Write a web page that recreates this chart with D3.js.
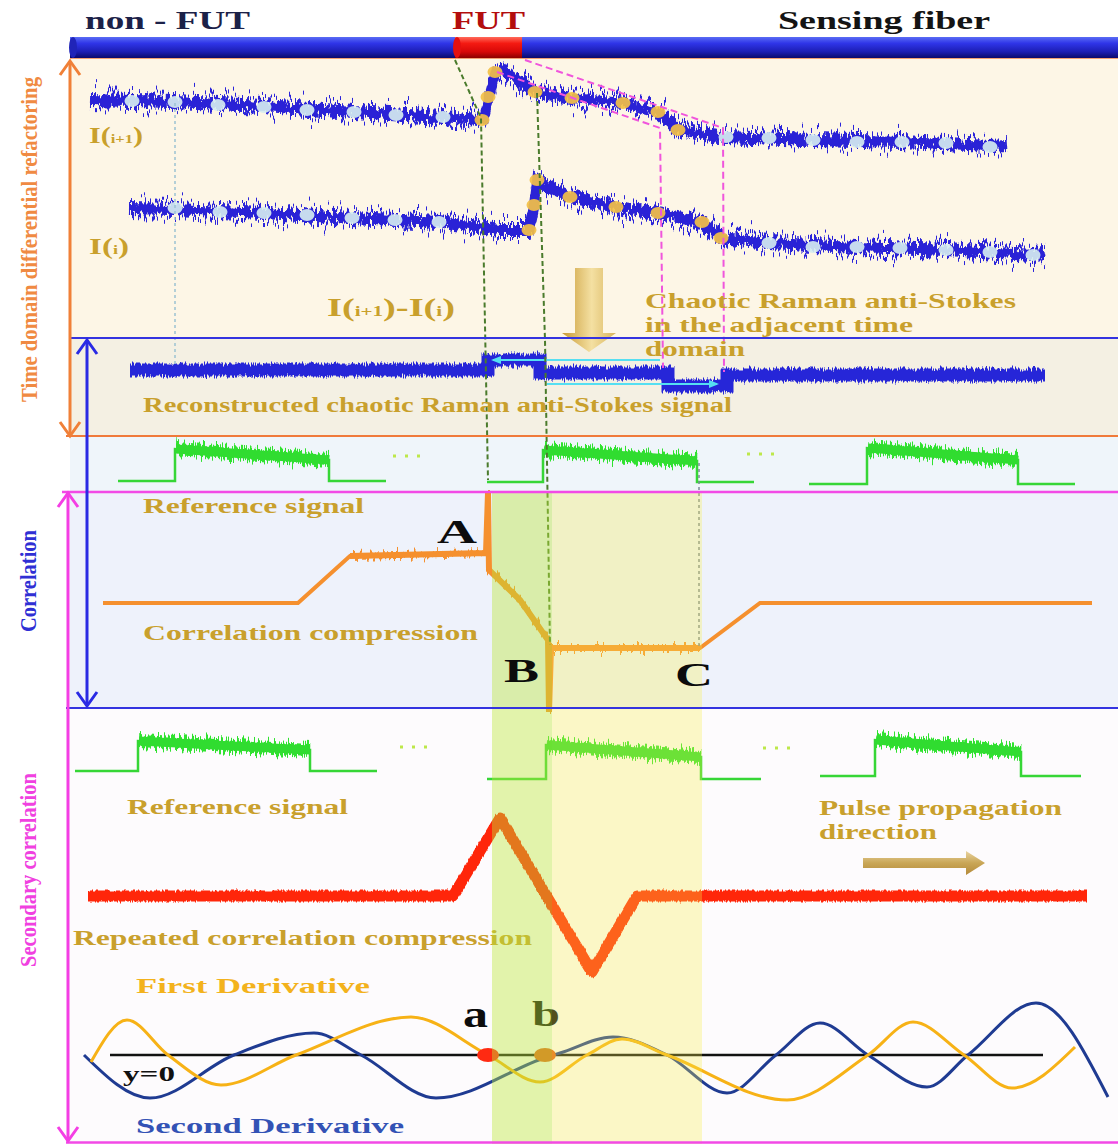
<!DOCTYPE html>
<meta charset="utf-8">
<style>
body { margin: 0; background: #fff; }
svg { display: block; }
.lbl { font-family: "Liberation Serif", "DejaVu Serif", serif; font-weight: bold; }
</style>
<svg width="1118" height="1144"></svg>
<script src="https://d3js.org/d3.v7.min.js"></script>
<script>

// ---- data (distance along fiber, signal values) ----
var fiberParts = [
  {name: "non-FUT", from: 0, to: 385},
  {name: "FUT", from: 385, to: 452},
  {name: "fiber", from: 452, to: 1048}
];

// I(i+1), I(i): trend of the chaotic Raman anti-Stokes traces (a.u.)
var traceNext = [[20,90],[105,89],[194,87],[284,84],[373,81.5],[408,80],[414,81],[419,91.5],[426,104],[432,105],
  [465,94],[502,91],[553,88.5],[588,84],[608,75],[655,71.5],[743,70],[832,69],[920,67],[937,67.5]];
var traceCur = [[59,36],[105,35.5],[194,33.5],[282,31],[369,29],[400,27],[430,25],[459,25],[464,37.5],[467,50],
  [500,41.5],[546,36.5],[588,33.5],[632,29],[651,21],[699,18.5],[787,16.5],[876,15],[963,12.5],[975,13]];
var dotsNextPlain = [[62,89.5],[105,89],[148,87.5],[194,86.5],[237,85],[284,84],[326,82.5],[373,81.5],
  [656,71.5],[699,71],[743,70],[787,69],[832,69],[876,68.5],[920,66.5]];
var dotsNextHot = [[412,80],[418,91.5],[425,104],[465,94],[502,91],[553,88.5],[588,84],[608,75]];
var dotsCurPlain = [[105,36],[150,34],[194,33.5],[237,32.5],[282,31],[325,30],[369,29],
  [699,18.5],[743,16.5],[787,16.5],[830,16],[876,15],[920,14],[963,12.5]];
var dotsCurHot = [[459,25],[464,37.5],[467,50],[500,41.5],[546,36.5],[588,33.5],[632,29],[651,21]];

// reconstructed difference signal (step levels)
var recX = [60, 418, 470, 598, 657, 975];
var recY = [2.5, 7.5, 1, -5.5, 0, 0];
var shiftArrows = [[590, 423, 7.5], [477, 647, -4.5]];   // from, to, level

// reference pulses: baseStart, rise, fall, baseEnd, base, topStart, topEnd
var refPulsesA = [[48,105,259,316,0.25,8.25,5.5],[417,473,627,684,0,8,5.25],[739,797,948,1005,-0.5,8.5,5.5]];
var refDotsA = [[323,353,6.5],[677,706,7]];
var refPulsesB = [[5,68,240,307,1.25,8.75,6.5],[417,476,631,691,-0.75,7.75,4.75],[750,805,951,1011,0,9,6]];
var refDotsB = [[330,362,7.25],[693,723,7]];

// correlation compression
var corr = [[33,48.5],[228,48.5],[280,72],[416,73.5],[418,103.5],[419,65],[450,50],[478,30],[479,-6],[481,26],
  [630,26],[690,48.5],[1022,48.5]];
var corrNoisy = [280, 630];

// repeated correlation compression
var repCorr = [[18,0],[383,0],[430,78],[522,-76],[567,0],[1017,0]];

// derivatives
var firstDer = [[21,-0.14],[57,0.7],[98,0],[151,-0.6],[226,0],[341,0.76],[418,0],[470,-0.54],[517,0],[552,0.32],
  [597,0],[717,-0.9],[798,0],[843,0.66],[894,0],[942,-0.66],[1005,0.16]];
var secondDer = [[14,0],[80,-0.86],[164,0],[244,0.44],[291,0],[366,-0.86],[477,-0.04],[490,0.04],[543,0.36],
  [597,0],[657,-0.76],[706,0],[750,0.64],[798,0],[857,-0.64],[898,0],[966,1.04],[1038,-0.84]];
var zeroLine = [40, 973];
var zeroPts = [["a", 418, "#ff2a12"], ["b", 475, "#e2631c"]];

var bands = [[422, 482, "#bde83a", 0.42], [482, 632, "#f8ee4a", 0.3]];

// ---- layout ----
var svg = d3.select("svg"),
    W = +svg.attr("width"), H = +svg.attr("height"), left = 70;

var x = d3.scaleLinear().domain([0, 1048]).range([left, W]);
var yInt = d3.scaleLinear().domain([0, 110]).range([280, 60]);
var yRec = d3.scaleLinear().domain([-10, 10]).range([395, 355]);
var yRefA = d3.scaleLinear().domain([0, 10]).range([482, 442]);
var yRefB = d3.scaleLinear().domain([0, 10]).range([776, 736]);
var yCor = d3.scaleLinear().domain([0, 100]).range([700, 500]);
var yRep = d3.scaleLinear().domain([-100, 100]).range([996, 796]);
var yDer = d3.scaleLinear().domain([-1, 1]).range([1105, 1005]);

var panels = [
  {y0: 58, y1: 338, fill: "#fdf6e6"},
  {y0: 338, y1: 436, fill: "#f4f0e3"},
  {y0: 436, y1: 492, fill: "#eff5fa"},
  {y0: 492, y1: 708, fill: "#eef2fb"},
  {y0: 708, y1: 1144, fill: "#fdfbfd"}
];

var gold = "#c9a02c";

var defs = svg.append("defs");

function grad(id, vertical, stops) {
  var g = defs.append("linearGradient").attr("id", id)
    .attr("x1", 0).attr("y1", 0).attr("x2", vertical ? 0 : 1).attr("y2", vertical ? 1 : 0);
  stops.forEach(function(s) { g.append("stop").attr("offset", s[0]).attr("stop-color", s[1]); });
}
grad("blueFiber", true, [[0,"#5a6cf4"],[0.3,"#2f35e8"],[0.7,"#1c1eb4"],[1,"#0a0a6c"]]);
grad("redFiber", true, [[0,"#ff6a5a"],[0.3,"#f51a12"],[0.7,"#d70808"],[1,"#8c0000"]]);
grad("goldV", false, [[0,"#c99a34"],[0.55,"#f4e0a2"],[1,"#d8b45c"]]);
grad("goldH", true, [[0,"#e9d3a0"],[0.5,"#c9a656"],[1,"#b48a3a"]]);

function noise(id, freq, scale, seed, oct) {
  var f = defs.append("filter").attr("id", id).attr("filterUnits", "userSpaceOnUse")
    .attr("x", 0).attr("y", 0).attr("width", W).attr("height", H)
    .attr("color-interpolation-filters", "sRGB");
  f.append("feTurbulence").attr("type", "fractalNoise").attr("baseFrequency", freq)
    .attr("numOctaves", oct || 2).attr("seed", seed).attr("result", "t");
  f.append("feColorMatrix").attr("in", "t").attr("type", "matrix")
    .attr("values", "0 0 0 0 0.5  0 1 0 0 0  0 0 0 0 0  0 0 0 0 1").attr("result", "m");
  f.append("feDisplacementMap").attr("in", "SourceGraphic").attr("in2", "m")
    .attr("scale", scale).attr("xChannelSelector", "R").attr("yChannelSelector", "G");
}
noise("nzSpike1", "0.45 0.006", 50, 3, 2);
noise("nzSpike2", "0.7 0.006", 44, 11, 2);
noise("nzCore", "0.3 0.08", 18, 21, 2);
noise("nzRec", "0.9 0.05", 10, 5);
noise("nzRef", "0.8 0.01", 18, 7);
noise("nzCor", "0.3 0.02", 22, 9);
noise("nzRep", "0.6 0.05", 5, 13);

function marker(id, color) {
  defs.append("marker").attr("id", id).attr("viewBox", "0 0 10 10").attr("refX", 8).attr("refY", 5)
    .attr("markerWidth", 5).attr("markerHeight", 5).attr("orient", "auto")
    .append("path").attr("d", "M0,1L10,5L0,9Z").attr("fill", color);
}
marker("cyanHead", "#55dff2");

// backgrounds
svg.append("rect").attr("width", W).attr("height", H).attr("fill", "#fff");
svg.selectAll(".panel").data(panels).enter().append("rect")
  .attr("x", left).attr("y", function(d) { return d.y0; })
  .attr("width", W - left).attr("height", function(d) { return d.y1 - d.y0; })
  .attr("fill", function(d) { return d.fill; });

// fiber
svg.selectAll(".fiber").data(fiberParts).enter().append("rect")
  .attr("x", function(d) { return x(d.from); }).attr("y", 37)
  .attr("width", function(d) { return x(d.to) - x(d.from); }).attr("height", 21)
  .attr("fill", function(d) { return d.name == "FUT" ? "url(#redFiber)" : "url(#blueFiber)"; });
svg.append("ellipse").attr("cx", x(0) + 3).attr("cy", 47.5).attr("rx", 4).attr("ry", 10.5).attr("fill", "#2024b8");
svg.append("ellipse").attr("cx", x(fiberParts[1].from) + 2).attr("cy", 47.5).attr("rx", 4).attr("ry", 10.5).attr("fill", "#e41010");
svg.append("line").attr("x1", left).attr("x2", W).attr("y1", 58.5).attr("y2", 58.5)
  .attr("stroke", "#f2a072").attr("stroke-width", 1.2);

// panel 1: noisy traces
var lineInt = d3.line().x(function(d) { return x(d[0]); }).y(function(d) { return yInt(d[1]); });
[traceNext, traceCur].forEach(function(tr) {
  svg.append("path").attr("d", lineInt(tr)).attr("fill", "none").attr("stroke", "#2b24da")
    .attr("stroke-width", 4).attr("filter", "url(#nzSpike1)");
  svg.append("path").attr("d", lineInt(tr)).attr("fill", "none").attr("stroke", "#2b24da")
    .attr("stroke-width", 4).attr("filter", "url(#nzSpike2)");
  svg.append("path").attr("d", lineInt(tr)).attr("fill", "none").attr("stroke", "#2a22d6")
    .attr("stroke-width", 10).attr("filter", "url(#nzCore)");
});

function dots(data, color) {
  svg.append("g").selectAll("ellipse").data(data).enter().append("ellipse")
    .attr("cx", function(d) { return x(d[0]); }).attr("cy", function(d) { return yInt(d[1]); })
    .attr("rx", 7.5).attr("ry", 6).attr("fill", color).attr("opacity", 0.92);
}
dots(dotsNextPlain, "#d4eaf0");
dots(dotsCurPlain, "#d4eaf0");
dots(dotsNextHot, "#f3c046");
dots(dotsCurHot, "#f3c046");

// panel 2: reconstructed signal
var recPts = recX.map(function(v, i) { return [v, recY[i]]; });
var lineRec = d3.line().curve(d3.curveStepAfter).x(function(d) { return x(d[0]); }).y(function(d) { return yRec(d[1]); });
svg.append("path").attr("d", lineRec(recPts)).attr("fill", "none").attr("stroke", "#2626d8")
  .attr("stroke-width", 13).attr("filter", "url(#nzRec)");
svg.selectAll(".shift").data(shiftArrows).enter().append("line")
  .attr("x1", function(d) { return x(d[0]); }).attr("x2", function(d) { return x(d[1]); })
  .attr("y1", function(d) { return yRec(d[2]); }).attr("y2", function(d) { return yRec(d[2]); })
  .attr("stroke", "#55dff2").attr("stroke-width", 2).attr("marker-end", "url(#cyanHead)");

// reference pulses
function pulses(data, dotsData, y) {
  var g = svg.append("g");
  var ln = d3.line().x(function(d) { return x(d[0]); }).y(function(d) { return y(d[1]); });
  data.forEach(function(p) {
    g.append("path").attr("d", ln([[p[0],p[4]],[p[1],p[4]],[p[1],p[5]],[p[2],p[6]],[p[2],p[4]],[p[3],p[4]]]))
      .attr("fill", "none").attr("stroke", "#36d636").attr("stroke-width", 2.5);
    g.append("path").attr("d", ln([[p[1]+1,p[5]],[p[2],p[6]]]))
      .attr("fill", "none").attr("stroke", "#2fe22f").attr("stroke-width", 12).attr("filter", "url(#nzRef)");
    g.append("path").attr("d", ln([[p[1]+1,p[5]],[p[2],p[6]]]))
      .attr("fill", "none").attr("stroke", "#30dc30").attr("stroke-width", 9);
  });
  dotsData.forEach(function(d) {
    g.append("line").attr("x1", x(d[0])).attr("x2", x(d[1])).attr("y1", y(d[2])).attr("y2", y(d[2]))
      .attr("stroke", "#bde84a").attr("stroke-width", 3).attr("stroke-dasharray", "3,9");
  });
}
pulses(refPulsesA, refDotsA, yRefA);
pulses(refPulsesB, refDotsB, yRefB);

// correlation
var lineCor = d3.line().x(function(d) { return x(d[0]); }).y(function(d) { return yCor(d[1]); });
svg.append("path").attr("d", lineCor(corr)).attr("fill", "none").attr("stroke", "#f5902e").attr("stroke-width", 4);
var corrPart = corr.filter(function(d) { return d[0] >= corrNoisy[0] && d[0] <= corrNoisy[1]; });
svg.append("path").attr("d", lineCor(corrPart))
  .attr("fill", "none").attr("stroke", "#f5902e").attr("stroke-width", 4).attr("filter", "url(#nzCor)");
svg.append("path").attr("d", lineCor(corrPart))
  .attr("fill", "none").attr("stroke", "#f5902e").attr("stroke-width", 6);

// repeated correlation
var lineRep = d3.line().x(function(d) { return x(d[0]); }).y(function(d) { return yRep(d[1]); });
svg.append("path").attr("d", lineRep(repCorr)).attr("fill", "none").attr("stroke", "#ff260a")
  .attr("stroke-width", 11).attr("stroke-linejoin", "round").attr("filter", "url(#nzRep)");

// derivatives
var lineDer = d3.line().curve(d3.curveMonotoneX).x(function(d) { return x(d[0]); }).y(function(d) { return yDer(d[1]); });
svg.append("line").attr("x1", x(zeroLine[0])).attr("x2", x(zeroLine[1])).attr("y1", yDer(0)).attr("y2", yDer(0))
  .attr("stroke", "#111").attr("stroke-width", 2.5);
svg.append("path").attr("d", lineDer(secondDer)).attr("fill", "none").attr("stroke", "#1f3b92").attr("stroke-width", 3);
svg.append("path").attr("d", lineDer(firstDer)).attr("fill", "none").attr("stroke", "#f7b216").attr("stroke-width", 3);
svg.selectAll(".zp").data(zeroPts).enter().append("ellipse")
  .attr("cx", function(d) { return x(d[1]); }).attr("cy", yDer(0)).attr("rx", 11).attr("ry", 7)
  .attr("fill", function(d) { return d[2]; });

// guide lines (x in distance, y on the page)
var guides = [
  {pts: [[385,60],[411,118],[418,480]], color: "#4a7b2c", dash: "5,3", w: 2},
  {pts: [[467,93],[475,340],[480,645]], color: "#4a7b2c", dash: "5,3", w: 2},
  {pts: [[455,60],[653,128],[654,372]], color: "#f055dc", dash: "7,4", w: 2},
  {pts: [[427,72],[590,128],[593,368]], color: "#f055dc", dash: "7,4", w: 2},
  {pts: [[105,103],[105,365]], color: "#9cc2d2", dash: "3,3", w: 1.5},
  {pts: [[629,463],[629,647]], color: "#7c8a98", dash: "3,3", w: 1.5}
];
var lineG = d3.line().x(function(d) { return x(d[0]); }).y(function(d) { return d[1]; });
svg.selectAll(".guide").data(guides).enter().append("path")
  .attr("d", function(d) { return lineG(d.pts); }).attr("fill", "none")
  .attr("stroke", function(d) { return d.color; }).attr("stroke-width", function(d) { return d.w; })
  .attr("stroke-dasharray", function(d) { return d.dash; });

// gold arrows
svg.append("path").attr("d", "M575,268H603V333H616L589,352L562,333H575Z").attr("fill", "url(#goldV)");
svg.append("path").attr("d", "M863,858H966V851L985,863L966,875V868H863Z").attr("fill", "url(#goldH)");

// labels
function label(d) {
  return svg.append("text").attr("class", "lbl").attr("x", d.x).attr("y", d.y)
    .attr("font-size", d.size).attr("fill", d.fill || gold)
    .attr("textLength", d.len).attr("lengthAdjust", "spacingAndGlyphs").text(d.t);
}
[
  {t: "non - FUT", x: 85, y: 29, len: 165, size: 25, fill: "#1b2148"},
  {t: "FUT", x: 452, y: 29, len: 73, size: 25, fill: "#b30d0d"},
  {t: "Sensing fiber", x: 778, y: 29, len: 212, size: 26, fill: "#141414"},
  {t: "Chaotic Raman anti-Stokes", x: 645, y: 308, len: 371, size: 21},
  {t: "in the adjacent time", x: 645, y: 332, len: 268, size: 21},
  {t: "domain", x: 645, y: 356, len: 100, size: 21},
  {t: "Reconstructed chaotic Raman anti-Stokes signal", x: 143, y: 412, len: 589, size: 20},
  {t: "Reference signal", x: 143, y: 513, len: 221, size: 20},
  {t: "A", x: 437, y: 543, len: 40, size: 34, fill: "#0c0c0c"},
  {t: "Correlation compression", x: 143, y: 640, len: 335, size: 21},
  {t: "Reference signal", x: 127, y: 814, len: 221, size: 20},
  {t: "Pulse propagation", x: 819, y: 815, len: 243, size: 21},
  {t: "direction", x: 819, y: 839, len: 118, size: 21},
  {t: "Repeated correlation compression", x: 73, y: 945, len: 459, size: 21},
  {t: "First Derivative", x: 136, y: 993, len: 234, size: 21, fill: "#f3b21c"},
  {t: "a", x: 463, y: 1027, len: 25, size: 38, fill: "#0c0c0c"},
  {t: "b", x: 532, y: 1026, len: 28, size: 36, fill: "#0c0c0c"},
  {t: "y=0", x: 123, y: 1081, len: 52, size: 20, fill: "#111"},
  {t: "Second Derivative", x: 136, y: 1133, len: 268, size: 21, fill: "#3352b5"}
].forEach(label);

function subLabel(parts, xx, yy, len, size) {
  var t = svg.append("text").attr("class", "lbl").attr("x", xx).attr("y", yy).attr("fill", gold)
    .attr("textLength", len).attr("lengthAdjust", "spacingAndGlyphs");
  parts.forEach(function(p) {
    t.append("tspan").attr("font-size", p[1] ? size * 0.55 : size).text(p[0]);
  });
}
subLabel([["I(",0],["i+1",1],[")",0]], 89, 143, 54, 24);
subLabel([["I(",0],["i",1],[")",0]], 89, 254, 40, 24);
subLabel([["I(",0],["i+1",1],[")-I(",0],["i",1],[")",0]], 327, 316, 128, 26);

// highlighted time windows
svg.selectAll(".band").data(bands).enter().append("rect")
  .attr("x", function(d) { return x(d[0]); }).attr("y", 492)
  .attr("width", function(d) { return x(d[1]) - x(d[0]); }).attr("height", H - 492)
  .attr("fill", function(d) { return d[2]; }).attr("opacity", function(d) { return d[3]; });

label({t: "B", x: 504, y: 682, len: 35, size: 34, fill: "#0c0c0c"});
label({t: "C", x: 675, y: 686, len: 38, size: 34, fill: "#0c0c0c"});

// separators
[[338, "#3434e0", 2, 70], [436, "#f07a3a", 2, 66], [492, "#f24ae6", 2.5, 62], [708, "#3434e0", 2, 66], [1142.5, "#f24ae6", 2.5, 66]]
  .forEach(function(s) {
    svg.append("line").attr("x1", s[3]).attr("x2", W).attr("y1", s[0]).attr("y2", s[0])
      .attr("stroke", s[1]).attr("stroke-width", s[2]);
  });

// double arrows
function vArrow(xx, y0, y1, color, headTop, headBottom) {
  var g = svg.append("g").attr("stroke", color).attr("stroke-width", 3).attr("fill", "none");
  g.append("line").attr("x1", xx).attr("x2", xx).attr("y1", y0).attr("y2", y1);
  if (headTop) g.append("path").attr("d", "M" + (xx - 10) + "," + (y0 + 14) + "L" + xx + "," + y0 + "L" + (xx + 10) + "," + (y0 + 14));
  if (headBottom) g.append("path").attr("d", "M" + (xx - 10) + "," + (y1 - 14) + "L" + xx + "," + y1 + "L" + (xx + 10) + "," + (y1 - 14));
}
vArrow(70, 61, 436, "#f08038", true, true);
vArrow(87, 340, 706, "#2a2ae4", true, true);
vArrow(68, 493, 1141, "#f43ee4", true, true);

// vertical titles
function vLabel(t, xx, yy, len, color) {
  svg.append("text").attr("class", "lbl").attr("transform", "translate(" + xx + "," + yy + ") rotate(-90)")
    .attr("font-size", 23).attr("font-weight", "normal").attr("fill", color)
    .attr("textLength", len).attr("lengthAdjust", "spacingAndGlyphs").text(t);
}
vLabel("Time domain differential refactoring", 37, 402, 325, "#f08a42");
vLabel("Correlation", 36, 632, 102, "#2f2fd4");
vLabel("Secondary correlation", 36, 967, 194, "#f040e0");

</script>
